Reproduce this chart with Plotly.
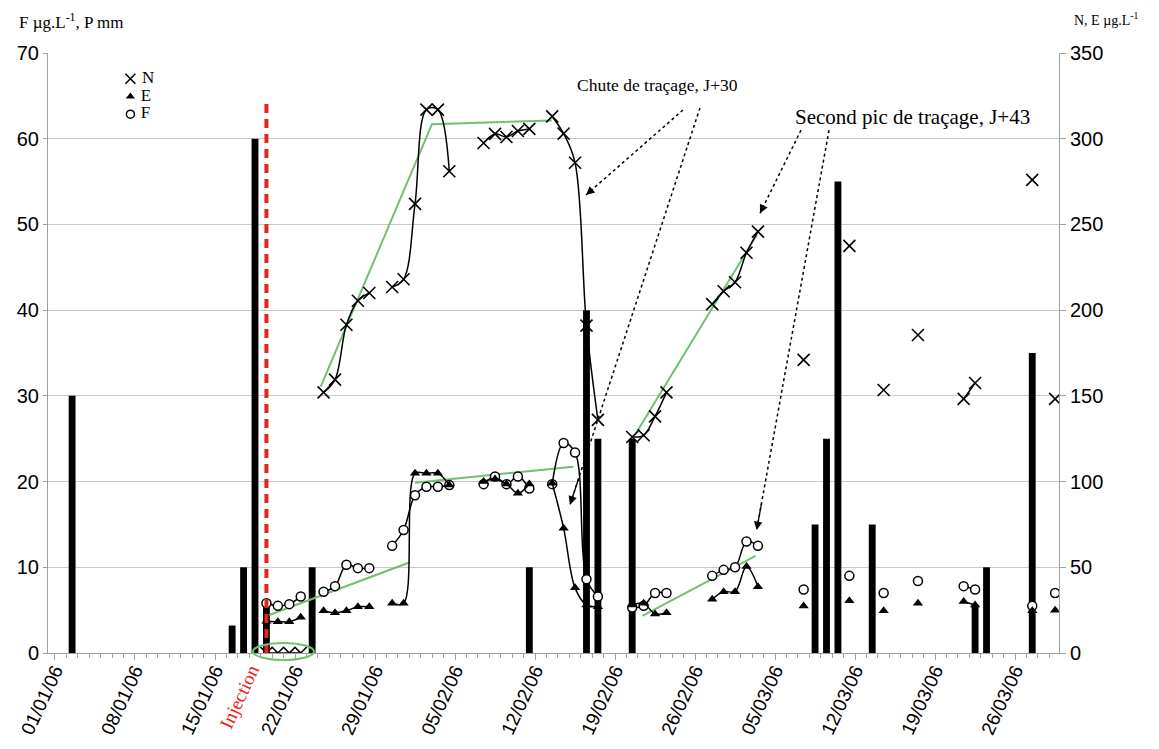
import plotly.graph_objects as go
import pandas as pd

# ---------------- data ----------------
# Rainfall P (mm) - left axis
rain_dates = ["2006-01-02", "2006-01-16", "2006-01-17", "2006-01-18", "2006-01-19", "2006-01-23",
              "2006-02-11", "2006-02-16", "2006-02-17", "2006-02-20",
              "2006-03-08", "2006-03-09", "2006-03-10", "2006-03-13", "2006-03-22", "2006-03-23",
              "2006-03-27"]
rain_mm = [30, 3.2, 10, 60, 5.5, 10, 10, 40, 25, 25, 15, 25, 55, 15, 5.5, 10, 35]

# sampling dates (None values = no sample -> line break)
sample_dates = ["2006-01-19", "2006-01-20", "2006-01-21", "2006-01-22", "2006-01-23",
                "2006-01-24", "2006-01-25", "2006-01-26", "2006-01-27", "2006-01-28", "2006-01-29",
                "2006-01-30", "2006-01-31", "2006-02-01", "2006-02-02", "2006-02-03", "2006-02-04", "2006-02-05",
                "2006-02-07", "2006-02-08", "2006-02-09", "2006-02-10", "2006-02-11", "2006-02-12",
                "2006-02-13", "2006-02-14", "2006-02-15", "2006-02-16", "2006-02-17", "2006-02-18",
                "2006-02-20", "2006-02-21", "2006-02-22", "2006-02-23", "2006-02-24",
                "2006-02-27", "2006-02-28", "2006-03-01", "2006-03-02", "2006-03-03", "2006-03-04",
                "2006-03-07", "2006-03-08", "2006-03-11", "2006-03-12", "2006-03-14", "2006-03-15",
                "2006-03-17", "2006-03-18", "2006-03-21", "2006-03-22", "2006-03-23",
                "2006-03-27", "2006-03-28", "2006-03-29"]

# N (ug/L) - right axis
N_vals = [0, 0, 0, 0, None,
          152, 159.5, 191.5, 205.5, 210, None,
          213.5, 218, 262, 317, 317, 281, None,
          297.5, 302.8, 301, 304.5, 305.7, None,
          313, 303, 286, 191, 136, None,
          126, 127, 138, 152, None,
          203.5, 211, 216.3, 233.5, 245.8, None,
          171, None, 237.5, None, 153.4, None, 185.5, None, 148.2, 157.5, None, 276, None, 148.2]

# E (ug/L) - right axis
E_vals = [18.5, 18.3, 18.3, 20.8, None,
          24.7, 23.5, 24.7, 27, 27, None,
          29, 29, 104.8, 104.8, 104.8, 98, None,
          100, 101.5, 98.6, 93.2, 98.6, None,
          99, 72.8, 38, 28, 27, None,
          28, 29, 22.8, 23.5, None,
          31.3, 35.8, 35.8, 50.4, 38.7, None,
          27.4, None, 30.5, None, 24.7, None, 29, None, 30, 28, None, 24.7, None, 25]

# F (ug/L) - left axis
F_vals = [5.8, 5.5, 5.7, 6.6, None,
          7.15, 7.8, 10.3, 9.9, 9.9, None,
          12.5, 14.35, 18.4, 19.4, 19.4, 19.6, None,
          19.7, 20.6, 19.7, 20.6, 19.2, None,
          19.7, 24.5, 23.4, 8.6, 6.6, None,
          5.3, 5.5, 7.0, 7.0, None,
          9.0, 9.7, 10.0, 13.0, 12.5, None,
          7.4, None, 9.0, None, 7.0, None, 8.4, None, 7.8, 7.4, None, 5.5, None, 7.0]

# green trend lines: (day offset from 01/01/06, value)
trend_N1_days = [23.25, 32.98, 43.46]
trend_N1_vals = [155.4, 308.5, 310.6]
trend_N2_days = [50.74, 61.4]
trend_N2_vals = [127.2, 243.9]
trend_low_A_days = [18.75, 31.06]
trend_low_A_vals = [4.43, 10.58]
trend_low_B_days = [31.5, 45.35]
trend_low_B_vals = [19.87, 21.74]
trend_low_C_days = [51.4, 61.3]
trend_low_C_vals = [4.32, 11.32]

injection_date = "2006-01-19"
injection_top = 64.5

# annotation arrows (day, left-axis value): start -> tip
arrows = [(54.94, 63.35, 46.46, 53.44),
          (56.43, 63.6, 45.06, 17.3),
          (65.27, 61.0, 61.68, 51.3),
          (67.72, 61.0, 61.39, 14.35)]
label_J30 = ("Chute de traçage, J+30", 52.67, 66.3, 17.5)
label_J43 = ("Second pic de traçage, J+43", 74.98, 62.5, 21)

legend_names = ["N", "E", "F"]

# ---------------- helpers ----------------
BASE = pd.Timestamp("2006-01-01")
MID = pd.Timedelta(hours=12)
DAY_MS = 86400000
X_RANGE_DAYS = (-0.61, 87.84)
PAGE_OFFSET = 8  # default body margin of the html page


def to_dt(d):
    return BASE + pd.to_timedelta(d, unit="D")


def mid(dates):
    return [pd.Timestamp(d) + MID for d in dates]


def paper_x(d):
    return (d - X_RANGE_DAYS[0]) / (X_RANGE_DAYS[1] - X_RANGE_DAYS[0])


SERIF = "Liberation Serif, Times New Roman, serif"
SANS = "Liberation Sans, Arial, sans-serif"
GREEN = "#72BF72"
GRID = "#C8C8C8"
AXC = "#A0A0A0"
RED = "#E8221C"

N_MARK = dict(symbol="x-thin-open", size=12, color="black", line=dict(color="black", width=1.6))
E_MARK = dict(symbol="triangle-up", size=9, color="black")
F_MARK = dict(symbol="circle", size=9, color="white", line=dict(color="black", width=1.5))

fig = go.Figure()

# rainfall bars
fig.add_trace(go.Bar(x=mid(rain_dates), y=rain_mm, width=0.6 * DAY_MS,
                     marker=dict(color="black", line=dict(width=0)),
                     showlegend=False, yaxis="y"))

# trend lines
for dd, vv, ax in [(trend_low_A_days, trend_low_A_vals, "y"),
                   (trend_low_B_days, trend_low_B_vals, "y"),
                   (trend_low_C_days, trend_low_C_vals, "y"),
                   (trend_N1_days, trend_N1_vals, "y2"),
                   (trend_N2_days, trend_N2_vals, "y2")]:
    fig.add_trace(go.Scatter(x=[to_dt(d) for d in dd], y=vv, mode="lines",
                             line=dict(color=GREEN, width=2), showlegend=False,
                             yaxis=ax, hoverinfo="skip"))

xs = mid(sample_dates)
LINE = dict(color="black", width=1.5, shape="spline", smoothing=1)
fig.add_trace(go.Scatter(x=xs, y=F_vals, mode="lines+markers", yaxis="y", line=LINE,
                         marker=F_MARK, connectgaps=False, showlegend=False, name="F"))
fig.add_trace(go.Scatter(x=xs, y=E_vals, mode="lines+markers", yaxis="y2", line=LINE,
                         marker=E_MARK, connectgaps=False, showlegend=False, name="E"))
fig.add_trace(go.Scatter(x=xs, y=N_vals, mode="lines+markers", yaxis="y2", line=LINE,
                         marker=N_MARK, connectgaps=False, showlegend=False, name="N"))

# in-plot legend (markers + labels) on a hidden axis pair covering the plot area
leg_marks = [dict(N_MARK, size=10), dict(E_MARK, size=8), dict(F_MARK, size=8)]
for i, (nm, mk) in enumerate(zip(legend_names, leg_marks)):
    fig.add_trace(go.Scatter(x=[0.0815], y=[0.957 - 0.0295 * i], xaxis="x3", yaxis="y3",
                             mode="markers+text", text=["\u00a0" + nm], textposition="middle right",
                             textfont=dict(family=SERIF, size=17, color="black"),
                             marker=mk, showlegend=False, hoverinfo="skip", cliponaxis=False))

shapes = []
inj_x = pd.Timestamp(injection_date) + MID
shapes.append(dict(type="line", xref="x", yref="y", x0=inj_x, x1=inj_x, y0=0, y1=injection_top,
                   line=dict(color=RED, width=4, dash="9px,6px"), layer="above"))
shapes.append(dict(type="circle", xref="paper", yref="paper",
                   x0=paper_x(17.32), x1=paper_x(22.66), y0=-0.0117, y1=0.0167,
                   line=dict(color=GREEN, width=2), layer="above"))
annotations = []
for (sd, sv, td, tv) in arrows:
    shapes.append(dict(type="line", xref="x", yref="y", x0=to_dt(sd), y0=sv, x1=to_dt(td), y1=tv,
                       line=dict(color="black", width=1.5, dash="dot"), layer="above"))
    f = 0.07
    annotations.append(dict(x=to_dt(td), y=tv, ax=to_dt(td + f * (sd - td)), ay=tv + f * (sv - tv),
                            xref="x", yref="y", axref="x", ayref="y", text="", showarrow=True,
                            arrowhead=2, arrowsize=1.3, arrowwidth=1.3, arrowcolor="black"))

for (txt, d, v, fs) in [label_J30, label_J43]:
    annotations.append(dict(x=to_dt(d), y=v, xref="x", yref="y", text=txt, showarrow=False,
                            font=dict(family=SERIF, size=fs, color="black")))

annotations.append(dict(x=inj_x, y=0, xref="x", yref="y", text="Injection", showarrow=False,
                        textangle=-65, xanchor="right", yanchor="top", yshift=-6,
                        font=dict(family=SERIF, size=19, color=RED)))
annotations.append(dict(x=0, y=1.053, xref="paper", yref="paper", xshift=-31,
                        text="F µg.L<sup>-1</sup>, P mm", showarrow=False,
                        xanchor="left", yanchor="middle",
                        font=dict(family=SERIF, size=17, color="black")))
annotations.append(dict(x=1, y=1.057, xref="paper", yref="paper", xshift=13,
                        text="N, E µg.L<sup>-1</sup>", showarrow=False,
                        xanchor="left", yanchor="middle",
                        font=dict(family=SERIF, size=14, color="black")))

fig.update_layout(
    width=1159 - PAGE_OFFSET, height=749 - PAGE_OFFSET,
    margin=dict(l=48 - PAGE_OFFSET, r=100, t=53 - PAGE_OFFSET, b=96),
    plot_bgcolor="rgba(0,0,0,0)", paper_bgcolor="white",
    barmode="overlay", showlegend=False,
    shapes=shapes, annotations=annotations,
    xaxis=dict(type="date", range=[to_dt(X_RANGE_DAYS[0]), to_dt(X_RANGE_DAYS[1])],
               tick0="2006-01-01", dtick=7 * DAY_MS, tickformat="%d/%m/%y", tickangle=-65,
               ticks="outside", ticklen=6, tickcolor=AXC, showline=True, linecolor=AXC,
               showgrid=False, zeroline=False, automargin=False, ticklabelstandoff=-8,
               tickfont=dict(family=SANS, size=19, color="black"),
               minor=dict(dtick=DAY_MS, ticks="outside", ticklen=4, tickcolor=AXC, showgrid=False)),
    yaxis=dict(range=[0, 70], dtick=10, showgrid=True, gridcolor=GRID, gridwidth=1,
               showline=True, linecolor=AXC, ticks="outside", ticklen=4, tickcolor=AXC,
               zeroline=False, automargin=False,
               tickfont=dict(family=SANS, size=20, color="black")),
    yaxis2=dict(range=[0, 350], dtick=50, overlaying="y", side="right", showgrid=False,
                showline=True, linecolor=AXC, ticks="outside", ticklen=6, tickcolor=AXC,
                zeroline=False, automargin=False,
                tickfont=dict(family=SANS, size=20, color="black")),
    xaxis3=dict(domain=[0, 1], range=[0, 1], anchor="y3", visible=False, fixedrange=True),
    yaxis3=dict(domain=[0, 1], range=[0, 1], anchor="x3", visible=False, fixedrange=True),
)

fig.write_html("out.html")
